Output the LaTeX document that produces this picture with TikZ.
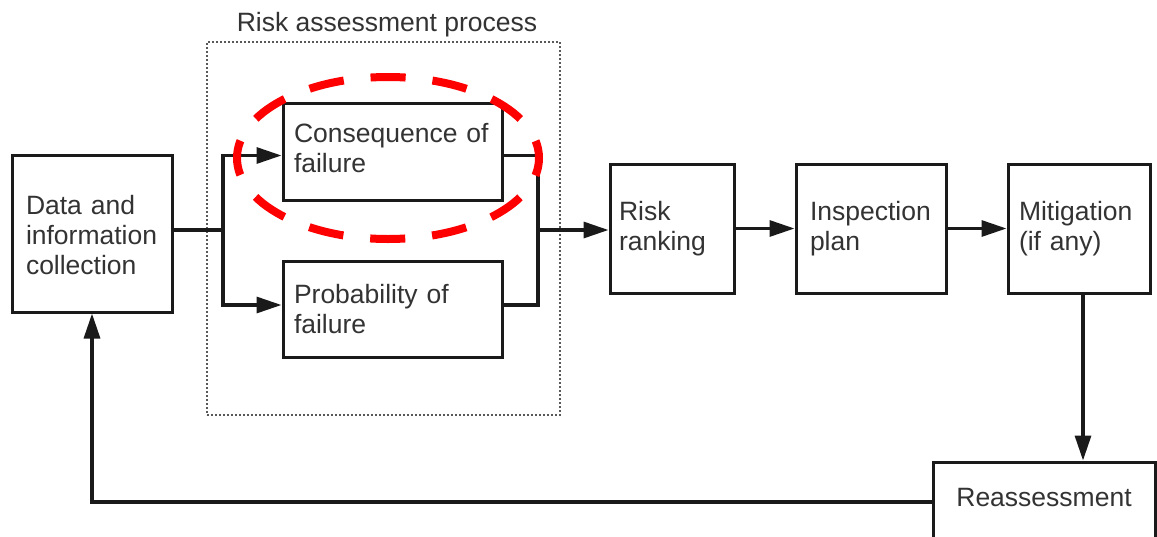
\documentclass[tikz,border=0pt]{standalone}
\usepackage{fontspec}
\setmainfont{Liberation Sans}
\usetikzlibrary{arrows.meta,calc}
\definecolor{ink}{HTML}{1A1A1A}
\definecolor{txt}{HTML}{333333}
\begin{document}
\begin{tikzpicture}[x=1pt,y=-1pt,
  font=\fontsize{26.5pt}{30pt}\selectfont,
  box/.style={draw=ink, line width=3pt, rectangle, align=left, text=txt},
  conn/.style={line width=3.2pt, draw=ink},
  arr/.style={conn, -{Triangle[length=25pt,width=16pt]}},
  frame/.style={draw=black!65, dash pattern=on 2pt off 2pt, line width=1.3pt, rectangle}]
\clip (0,0) rectangle (1157,536);
\fill[white] (0,0) rectangle (1157,536);

% group frame and title
\node[frame, minimum width=353pt, minimum height=373pt] (rap) at (383.5,228.5) {};
\node[anchor=base, text=txt] (title) at (387,31) {Risk assessment process};

% boxes
\node[box, minimum width=160pt, minimum height=157pt, inner xsep=14pt, text width=132pt, text height=23pt] (data) at (92,233.5) {Data and\\information\\collection};
\node[box, minimum width=219pt, minimum height=97pt, inner xsep=11pt, text width=197pt, text depth=38pt] (cons) at (392.5,151.5) {Consequence of\\failure};
\node[box, minimum width=219pt, minimum height=96pt, inner xsep=11pt, text width=197pt] (prob) at (392.5,309) {Probability of\\failure};
\node[box, minimum width=124pt, minimum height=129pt, inner xsep=9pt, text width=106pt] (risk) at (672,228.5) {Risk\\ranking};
\node[box, minimum width=150pt, minimum height=129pt, inner xsep=14pt, text width=122pt] (insp) at (871,228.5) {Inspection\\plan};
\node[box, minimum width=142pt, minimum height=129pt, inner xsep=11pt, text width=120pt] (mitig) at (1079,228.5) {Mitigation\\(if any)};
\node[box, align=center, minimum width=222pt, minimum height=80pt, text depth=9pt] (reass) at (1044,502) {Reassessment};

% connectors
\coordinate (split) at (223,230);
\coordinate (merge) at (538,230);
\draw[conn] (data.east |- split) -- (split);
\draw[arr] (split) |- ([yshift=-4pt]cons.west);
\draw[arr] (split) |- ([yshift=4pt]prob.west);
\draw[conn] ([yshift=-4pt]cons.east) -| (merge);
\draw[conn] ([yshift=4pt]prob.east) -| (merge);
\draw[arr] (merge) -- (merge -| risk.west);
\draw[arr] (risk.east) -- (insp.west);
\draw[arr] (insp.east) -- (mitig.west);
\draw[arr] ([xshift=4pt]mitig.south) -- ([xshift=4pt]mitig.south |- reass.north);
\draw[arr] (reass.west) -| (data.south);

% red highlight
\draw[red, line width=8pt, dash pattern=on 35.1pt off 27pt, dash phase=17.55pt] (388,158) ellipse [x radius=151pt, y radius=81pt];
\end{tikzpicture}
\end{document}
